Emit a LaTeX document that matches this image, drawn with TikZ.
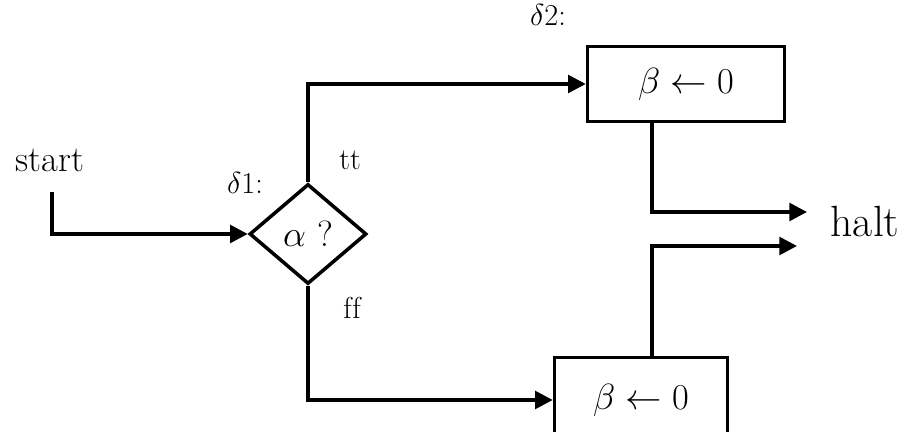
\documentclass[tikz,border=0pt]{standalone}
\usepackage{tikz}
\usetikzlibrary{arrows.meta, shapes.geometric, positioning}

\begin{document}
\begin{tikzpicture}[line width=2pt, font=\huge,
                        every node/.style={line width=2pt},
                        stmt/.style={draw, rectangle, inner sep=0pt},
                        test/.style={draw, diamond, inner sep=0pt, minimum width=2.34cm, minimum height=2cm},
                        lab/.style={font=\LARGE},
                        flow/.style={-{Triangle[length=10pt, width=10pt]}}]
                        \useasboundingbox (0, 0) rectangle (18.3, 8.64);
                        \node[] (st) at (1.0, 5.44) {start};
                        \coordinate (stb) at (1.04, 4.8);
                        \node[test] (d1) at (6.16, 3.96) {$\alpha$ ?};
                        \node[lab] (l1) at (4.9, 4.98) {$\delta$1:};
                        \node[font=\LARGE] (tt) at (7.0, 5.44) {tt};
                        \node[font=\LARGE] (ff) at (7.04, 2.48) {f\kern0.02em f};
                        \node[stmt, minimum width=3.94cm, minimum height=1.5cm] (b2) at (13.72, 6.96) {$\beta \leftarrow 0$};
                        \node[lab] (l2) at (10.96, 8.34) {$\delta$2:};
                        \node[stmt, minimum width=3.46cm, minimum height=1.7cm] (b3) at (12.82, 0.64) {$\beta \leftarrow 0$};
                        \node[font=\Huge] (halt) at (17.3, 4.2) {halt};
                        \coordinate (h1) at (16.14, 4.4);
                        \coordinate (h2) at (15.94, 3.72);
                        \draw[flow] (stb) |- (d1.west);
                        \draw[flow] (d1.north) |- (b2.west);
                        \draw[flow] (d1.south) |- (b3.west);
                        \draw[flow] (b2.south -| 13.04, 0) |- (h1);
                        \draw[flow] (b3.north -| 13.04, 0) |- (h2);
                    \end{tikzpicture}
\end{document}
